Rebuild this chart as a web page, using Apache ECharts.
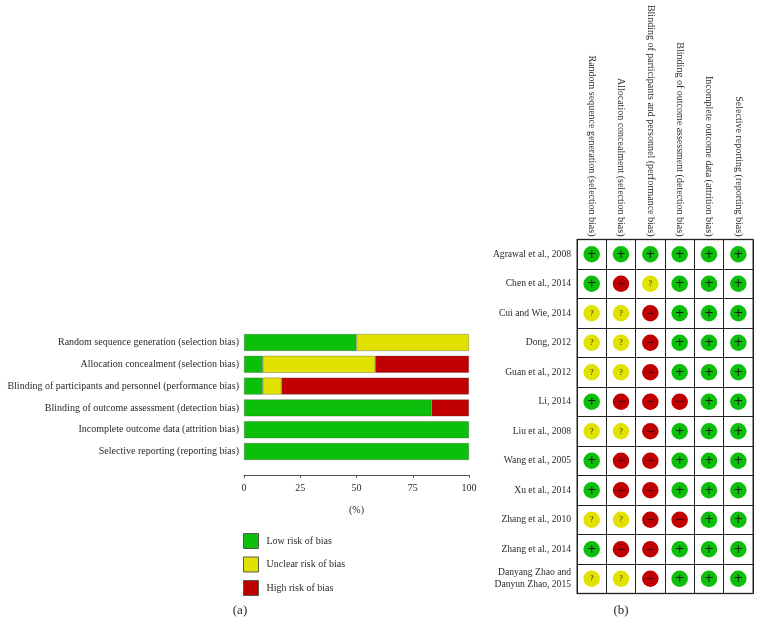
<!DOCTYPE html>
<html>
<head>
<meta charset="utf-8">
<style>html,body{margin:0;padding:0;background:#fff}#c{width:762px;height:637px}</style>
<script src="https://cdn.jsdelivr.net/npm/echarts@6/dist/echarts.min.js"></script>
</head>
<body>
<div id="c"></div>
<script>
const domains = [
  "Random sequence generation (selection bias)",
  "Allocation concealment (selection bias)",
  "Blinding of participants and personnel (performance bias)",
  "Blinding of outcome assessment (detection bias)",
  "Incomplete outcome data (attrition bias)",
  "Selective reporting (reporting bias)"
];
const lowRisk = [50, 8.33, 8.33, 83.33, 100, 100];
const unclearRisk = [50, 50, 8.33, null, null, null];
const highRisk = [null, 41.67, 83.33, 16.67, null, null];
const xTicks = [0, 25, 50, 75, 100];

const studies = [
  "Agrawal et al., 2008", "Chen et al., 2014", "Cui and Wie, 2014", "Dong, 2012",
  "Guan et al., 2012", "Li, 2014", "Liu et al., 2008", "Wang et al., 2005",
  "Xu et al., 2014", "Zhang et al., 2010", "Zhang et al., 2014",
  "Danyang Zhao and\nDanyun Zhao, 2015"
];
const judgements = [
  "++++++", "+-?+++", "??-+++", "??-+++",
  "??-+++", "+---++", "??-+++", "+--+++",
  "+--+++", "??--++", "+--+++", "??-+++"
];

const GREEN = "#0bbf0b", YELLOW = "#e2e200", RED = "#c00000";
const FONT = '"Liberation Serif", serif';
const TXT = "#2a2a2a";
const colourOf = { "+": GREEN, "?": YELLOW, "-": RED };
const glyphOf = { "+": "+", "?": "?", "-": "\u2212" };

const cells = [];
judgements.forEach((row, r) => {
  row.split("").forEach((j, c) => {
    cells.push({
      value: [c, r],
      itemStyle: { color: colourOf[j], opacity: 1 },
      label: {
        formatter: glyphOf[j],
        fontSize: j === "?" ? 8 : 12,
        fontFamily: j === "?" ? FONT : '"DejaVu Sans", sans-serif',
        offset: [0, 0.5],
        color: j === "-" ? "#3a0505" : "#1c1c1c"
      }
    });
  });
});

const barSeries = (name, data, c) => ({
  name, type: "bar", stack: "risk", xAxisIndex: 0, yAxisIndex: 0,
  barWidth: 17, data, silent: true,
  itemStyle: { color: c, borderColor: "rgba(70,70,60,0.55)", borderWidth: 0.6 }
});
const legendItem = (name, c) => ({
  name, icon: "rect",
  itemStyle: { color: c, borderColor: "#5a5a50", borderWidth: 1 }
});

const chart = echarts.init(document.getElementById("c"), null, { renderer: "canvas" });
chart.setOption({
  animation: false,
  backgroundColor: "#fff",
  title: [
    { text: "(a)", left: 240, top: 604, padding: 0, textAlign: "center", textStyle: { fontFamily: FONT, fontSize: 13, fontWeight: "normal", color: TXT } },
    { text: "(b)", left: 621, top: 604, padding: 0, textAlign: "center", textStyle: { fontFamily: FONT, fontSize: 13, fontWeight: "normal", color: TXT } }
  ],
  legend: {
    left: 243, top: 533, padding: 0, orient: "vertical", itemWidth: 15, itemHeight: 15, itemGap: 7.5,
    data: [legendItem("Low risk of bias", GREEN), legendItem("Unclear risk of bias", YELLOW), legendItem("High risk of bias", RED)],
    selectedMode: false,
    textStyle: { fontFamily: FONT, fontSize: 10, color: TXT, padding: [1, 0, 0, 3] }
  },
  grid: [
    { left: 244, top: 331.6, width: 225, height: 130.8 },
    { left: 577, top: 239.5, width: 176, height: 354, show: true, borderColor: "#6f6f6f", borderWidth: 1.5, backgroundColor: "#fff" }
  ],
  xAxis: [
    {
      gridIndex: 0, type: "value", min: 0, max: 100, interval: 25, offset: 12.5,
      name: "(%)", nameLocation: "middle", nameGap: 30,
      nameTextStyle: { fontFamily: FONT, fontSize: 10, color: TXT },
      axisLine: { show: true, lineStyle: { color: "#555", width: 1 } },
      axisTick: { show: true, length: 3, lineStyle: { color: "#555" } },
      axisLabel: { fontFamily: FONT, fontSize: 10, color: TXT, margin: 8, customValues: xTicks },
      splitLine: { show: false }
    },
    {
      gridIndex: 1, type: "category", position: "top", data: domains,
      axisLine: { show: false }, axisTick: { show: false },
      axisLabel: { rotate: 90, interval: 0, margin: 3, fontFamily: FONT, fontSize: 10, color: TXT },
      splitLine: { show: true, interval: 0, lineStyle: { color: "#222", width: 1 } }
    }
  ],
  yAxis: [
    {
      gridIndex: 0, type: "category", inverse: true, data: domains,
      axisLine: { show: false }, axisTick: { show: false },
      axisLabel: { interval: 0, margin: 5, fontFamily: FONT, fontSize: 10, color: TXT }
    },
    {
      gridIndex: 1, type: "category", inverse: true, data: studies,
      axisLine: { show: false }, axisTick: { show: false },
      axisLabel: { interval: 0, margin: 6, fontFamily: FONT, fontSize: 9.6, color: TXT, lineHeight: 12 },
      splitLine: { show: true, interval: 0, lineStyle: { color: "#222", width: 1 } }
    }
  ],
  series: [
    barSeries("Low risk of bias", lowRisk, GREEN),
    barSeries("Unclear risk of bias", unclearRisk, YELLOW),
    barSeries("High risk of bias", highRisk, RED),
    {
      name: "judgements", type: "scatter", xAxisIndex: 1, yAxisIndex: 1,
      symbol: "circle", symbolSize: 16.5, data: cells, silent: true,
      label: { show: true, position: "inside", textBorderWidth: 0 }
    }
  ]
});
</script>
</body>
</html>
